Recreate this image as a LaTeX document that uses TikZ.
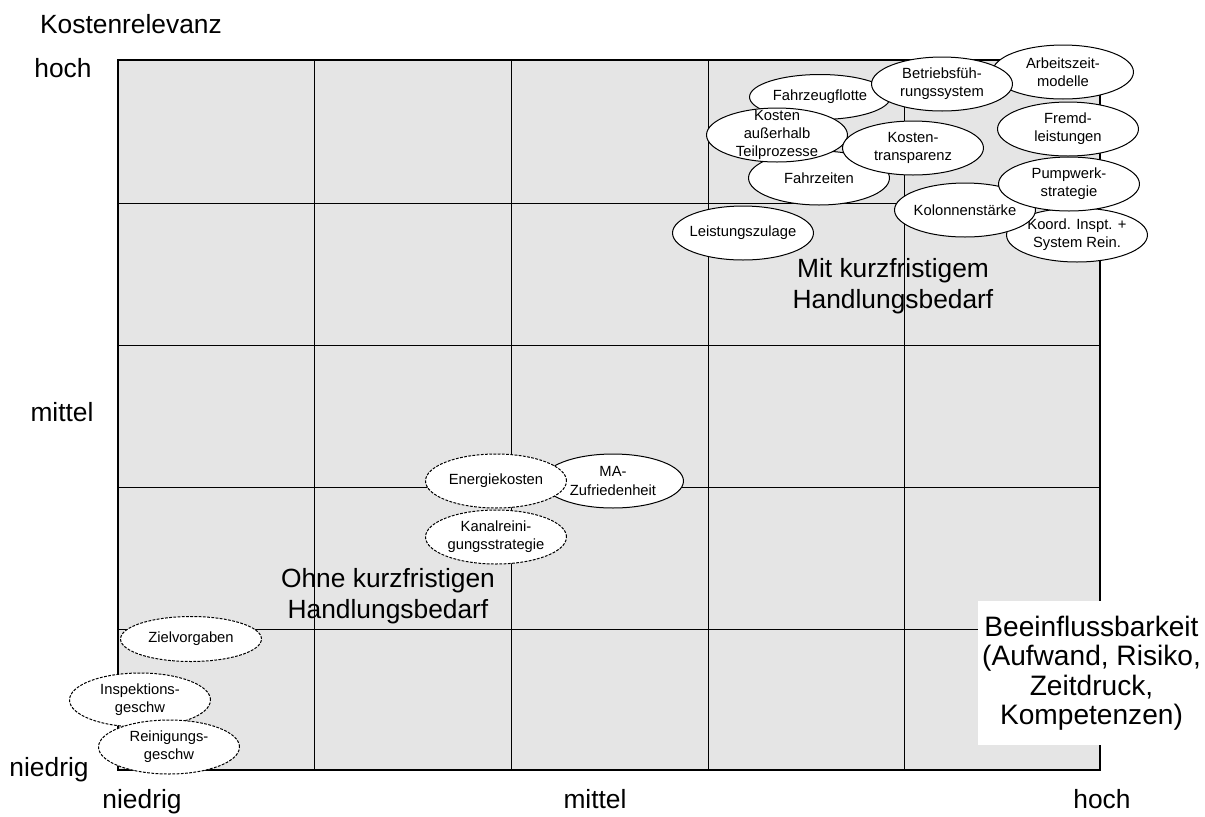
\documentclass[tikz,border=0pt]{standalone}
\usepackage{fontspec}
\setmainfont{Liberation Sans}
\usetikzlibrary{shapes.geometric}
\newcommand{\blob}[4][]{%
	\node[blob,#1] (#2) at (#3) {};
	\node[blobtext] (#2-t) at (#2) {#4};}
\begin{document}
\begin{tikzpicture}[x=0.02cm,y=-0.02cm,
	blob/.style={ellipse,draw,fill=white,line width=0.02cm,inner sep=0pt,minimum width=2.82cm,minimum height=1.08cm},
	flat/.style={minimum height=0.9cm},
	dashy/.style={dash pattern=on 1.6pt off 0.8pt},
	blobtext/.style={font=\fontsize{8.4}{10.4}\selectfont,align=center,inner sep=0pt},
	big/.style={font=\fontsize{15}{18}\selectfont,align=center,inner sep=0pt}]
	\useasboundingbox (0,0) rectangle (1205,816);
	
	% matrix
	\fill[black!10] (118,60) rectangle (1100,770);
	\node[big] (mit) at (893,286) {Mit kurzfristigem\\Handlungsbedarf};
	\node[big] (ohne) at (388,596) {Ohne kurzfristigen\\Handlungsbedarf};
	\foreach \x in {314,511,708,904}
		\draw[line width=0.02cm] (\x,60) -- (\x,770);
	\foreach \y in {203,345,487,629}
		\draw[line width=0.02cm] (118,\y) -- (1100,\y);
	\draw[line width=0.035cm] (118,60) rectangle (1100,770);
	
	% axes
	\node[big,anchor=base] (ykost) at (131,33) {Kostenrelevanz};
	\node[big,anchor=base] (yhoch) at (63,77) {hoch};
	\node[big,anchor=base] (ymittel) at (62,421) {mittel};
	\node[big,anchor=base] (yniedrig) at (49,776) {niedrig};
	\node[big,anchor=base] (xniedrig) at (142,808) {niedrig};
	\node[big,anchor=base] (xmittel) at (595,808) {mittel};
	\node[big,anchor=base] (xhoch) at (1102,808) {hoch};
	\node[big,font=\fontsize{16}{16.8}\selectfont,fill=white,minimum width=4.54cm,minimum height=2.88cm] (beein) at (1091.5,673) {Beeinflussbarkeit\\(Aufwand, Risiko,\\Zeitdruck,\\Kompetenzen)};
	
	% upper right
	\blob[flat]{flotte}{820,97}{Fahrzeugflotte}
	\blob{arbeit}{1063,72}{Arbeitszeit-\\modelle}
	\blob{betrieb}{942,84}{Betriebsfüh-\\rungssystem}
	\blob{fahrzeit}{819,178}{Fahrzeiten}
	\blob{aussen}{777,135}{Kosten\\außerhalb\\Teilprozesse}
	\blob{transp}{913,148}{Kosten-\\transparenz}
	\blob{fremd}{1068,129}{Fremd-\\leistungen}
	\blob{koord}{1077,235}{Koord. Inspt. +\\System Rein.}
	\blob{kolonne}{965,210}{Kolonnenstärke}
	\blob{pump}{1069,184}{Pumpwerk-\\strategie}
	\blob{zulage}{743,233}{Leistungszulage}
	
	% lower left
	\blob{ma}{613,481}{MA-\\Zufriedenheit}
	\blob[dashy]{energie}{496,481}{Energiekosten}
	\blob[dashy]{kanal}{496,537}{Kanalreini-\\gungsstrategie}
	\blob[dashy,flat]{ziel}{191,639}{Zielvorgaben}
	\blob[dashy]{insp}{140,700}{Inspektions-\\geschw}
	\blob[dashy]{rein}{169,747}{Reinigungs-\\geschw}
\end{tikzpicture}
\end{document}
